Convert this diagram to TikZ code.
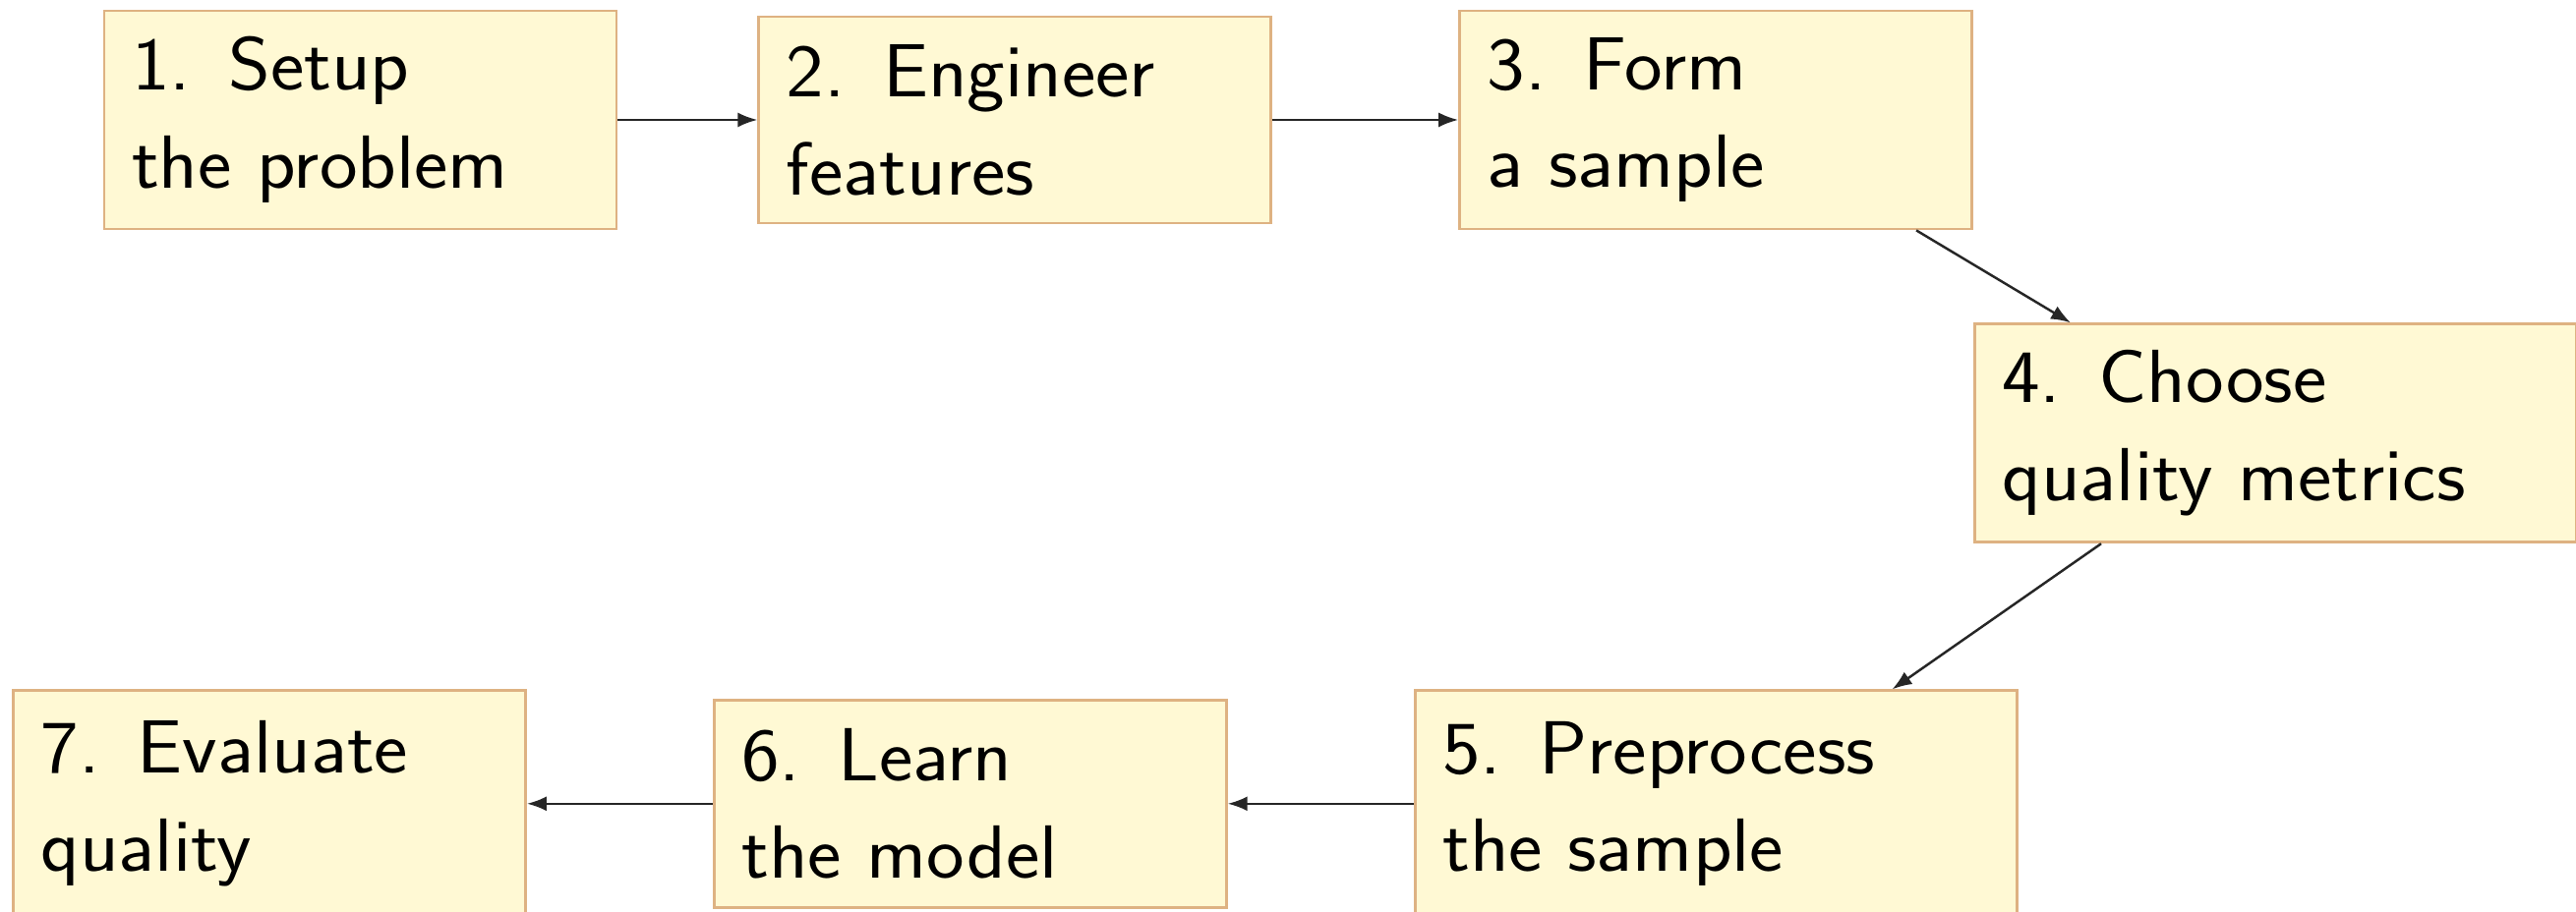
\documentclass[tikz,border=0pt]{standalone}
\usepackage{fontspec}
\setsansfont{Latin Modern Sans}[FakeStretch=1.07]
\usepackage{tikz}
\usetikzlibrary{positioning,arrows.meta}

\definecolor{stagefill}{RGB}{255,249,212}
\definecolor{stageline}{RGB}{222,178,130}

\tikzset{
    stage/.style={draw=stageline, fill=stagefill, line width=0.8pt, align=left,
        text width=4.65cm, inner xsep=0.28cm, minimum height=2.22cm,
        font=\sffamily\fontsize{21.8}{28.4}\selectfont},
    widestage/.style={stage, text width=5.56cm},
    flow/.style={-{Latex[length=0.2cm,width=0.15cm]}, line width=0.7pt, black!85},
}

\begin{document}
\begin{tikzpicture}[node distance=1.89cm]
    \useasboundingbox (0,0) rectangle (26.2,-9.28);

    \node[stage] at (3.665,-1.22)                          (s1) {1.\enspace Setup\\the problem};
    \node[stage, right=1.42cm of s1, minimum height=2.1cm] (s2) {2.\enspace Engineer\\features};
    \node[stage, right=of s2]                              (s3) {3.\enspace Form\\a sample};
    \node[widestage, below=0.94cm of s3.south east, anchor=north west] (s4) {4.\enspace Choose\\quality metrics};
    \node[widestage, below=4.67cm of s3, minimum height=2.3cm] (s5) {5.\enspace Preprocess\\the sample};
    \node[stage, left=of s5, minimum height=2.11cm]        (s6) {6.\enspace Learn\\the model};
    \node[stage, left=of s6, minimum height=2.3cm]         (s7) {7.\enspace Evaluate\\quality};

    \draw[flow] (s1.east) -- (s1.east -| s2.west);
    \draw[flow] (s2.east) -- (s2.east -| s3.west);
    \draw[flow] ([xshift=-0.58cm]s3.south east) -- ([xshift=0.99cm]s4.north west);
    \draw[flow] ([xshift=1.30cm]s4.south west) -- ([xshift=-1.28cm]s5.north east);
    \draw[flow] (s5.west) -- (s5.west -| s6.east);
    \draw[flow] (s6.west) -- (s6.west -| s7.east);
\end{tikzpicture}
\end{document}
